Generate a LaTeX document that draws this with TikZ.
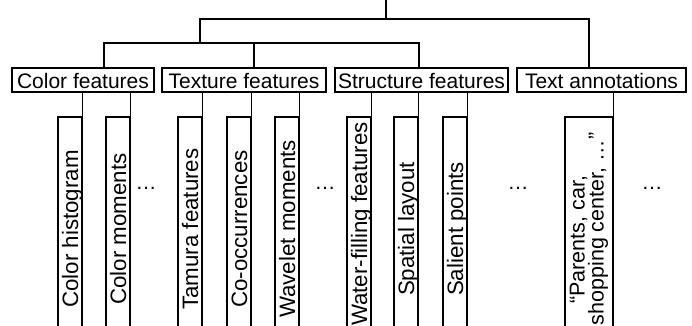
\documentclass[tikz,border=0pt]{standalone}
\usepackage{fontspec}
\setmainfont{Liberation Sans}
\begin{document}
\begin{tikzpicture}[x=1pt,y=-1pt,line width=1.1pt,
  every node/.style={font=\fontsize{21}{19}\selectfont, inner sep=0pt},
  group/.style={draw, minimum height=24pt, text height=16pt, text depth=0pt},
  leaf/.style={draw, rotate=90, minimum width=224pt, minimum height=24pt, text height=16pt, text depth=0pt, font=\fontsize{22.3}{22}\selectfont},
  wideleaf/.style={draw, rotate=90, minimum width=224pt, minimum height=48pt, align=left, font=\fontsize{21.5}{19}\selectfont},
  more/.style={anchor=base}]
\useasboundingbox (0,0) rectangle (692,325);
% group boxes
\node[group, minimum width=142pt] (color) at (83,80) {Color features};
\node[group, minimum width=164pt] (texture) at (244,80) {Texture features};
\node[group, minimum width=173pt] (structure) at (421.5,80) {Structure features};
\node[group, minimum width=169pt] (text) at (601.5,80) {Text annotations};
% tree above
\coordinate (root) at (386,0);
\coordinate (b1) at (386,19);
\coordinate (b2) at (200,43);
\coordinate (cIn) at ([xshift=21pt]color.north);
\coordinate (tIn) at ([xshift=10pt]texture.north);
\coordinate (sIn) at ([xshift=-2.5pt]structure.north);
\coordinate (aIn) at ([xshift=-12.5pt]text.north);
\draw (root) -- (b1);
\draw (b2) |- (aIn |- b1) -- (aIn);
\draw (cIn) |- (sIn |- b2) -- (sIn);
\draw (tIn) -- (tIn |- b2);
% leaves
\node[leaf] (l1) at (70,229) {Color histogram};
\node[leaf] (l2) at (118,229) {Color moments};
\node[leaf] (l3) at (190,229) {Tamura features};
\node[leaf] (l4) at (239,229) {Co-occurrences};
\node[leaf] (l5) at (287,229) {Wavelet moments};
\node[leaf, minimum width=214pt] (l6) at (359,224) {Water-filling features};
\node[leaf] (l7) at (406,229) {Spatial layout};
\node[leaf] (l8) at (455,229) {Salient points};
\node[wideleaf] (l9) at (589,229) {\hspace*{1em}“Parents, car,\\shopping center, …”};
% connectors to leaves
\draw (color.south -| l1.south east) -- (l1.south east);
\draw (color.south -| l2.south east) -- (l2.south east);
\draw (texture.south -| l3.south east) -- (l3.south east);
\draw (texture.south -| l4.south east) -- (l4.south east);
\draw (texture.south -| l5.south east) -- (l5.south east);
\draw (structure.south -| l6.south east) -- (l6.south east);
\draw (structure.south -| l7.south east) -- (l7.south east);
\draw (structure.south -| l8.south east) -- (l8.south east);
\draw (text.south -| l9.south east) -- (l9.south east);
% dots
\node[more] (d1) at (146,189) {…};
\node[more] (d2) at (325,189) {…};
\node[more] (d3) at (518,189) {…};
\node[more] (d4) at (652,189) {…};
\end{tikzpicture}
\end{document}
